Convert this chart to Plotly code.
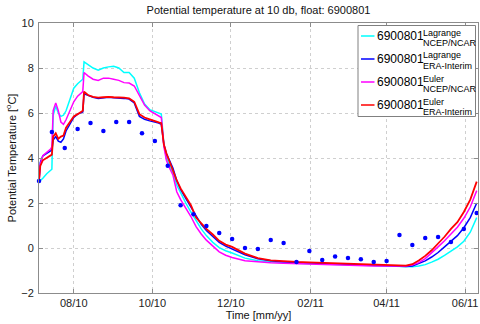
import pandas as pd
import plotly.graph_objects as go

# ---------------- data ----------------
start_date = "2010-07-05"
line_days = [0, 1, 3, 6, 9, 10, 11, 13, 15, 17,
             19, 21, 24, 27, 30, 33, 34, 35, 38, 42,
             46, 50, 54, 58, 62, 66, 70, 74, 78, 82,
             86, 90, 93, 95, 96, 97, 99, 101, 104, 107,
             110, 114, 118, 122, 126, 130, 135, 140, 145, 150,
             160, 170, 180, 190, 200, 210, 220, 230, 240, 250,
             260, 270, 280, 285, 290, 295, 300, 305, 310, 315,
             320, 325, 330, 335, 340]

lagrange_ncep = [2.95, 3.0, 3.1, 3.3, 3.45, 3.5, 5.9, 6.3, 6.0, 5.85,
                 5.9, 6.1, 6.6, 7.1, 7.3, 7.45, 7.5, 8.27, 8.15, 8.0,
                 7.9, 8.0, 8.05, 8.08, 8.0, 7.8, 7.8, 7.55, 6.9, 6.4,
                 6.15, 6.05, 6.0, 5.95, 5.3, 4.6, 4.0, 3.75, 3.35, 2.8,
                 2.45, 2.0, 1.6, 1.2, 0.85, 0.55, 0.25, 0.02, -0.12, -0.22,
                 -0.45, -0.57, -0.62, -0.66, -0.68, -0.7, -0.72, -0.73, -0.75, -0.77,
                 -0.8, -0.82, -0.83, -0.84, -0.83, -0.8, -0.74, -0.63, -0.5, -0.33,
                 -0.15, 0.05, 0.3, 0.7, 1.35]

lagrange_era = [2.9, 3.8, 4.1, 4.2, 4.3, 4.35, 4.8, 4.95, 4.75, 4.7,
                4.85, 5.2, 5.5, 5.8, 5.95, 6.05, 6.05, 6.85, 6.78, 6.7,
                6.65, 6.68, 6.7, 6.68, 6.68, 6.65, 6.62, 6.45, 5.85, 5.72,
                5.65, 5.6, 5.55, 5.5, 5.1, 4.6, 4.2, 3.95, 3.55, 3.0,
                2.6, 2.2, 1.8, 1.4, 1.05, 0.78, 0.5, 0.25, 0.08, -0.05,
                -0.3, -0.48, -0.57, -0.62, -0.64, -0.66, -0.68, -0.71, -0.73, -0.76,
                -0.78, -0.8, -0.82, -0.82, -0.8, -0.7, -0.57, -0.4, -0.2, 0.05,
                0.3, 0.55, 0.9, 1.35, 2.0]

euler_ncep = [3.0, 3.7, 4.1, 4.25, 4.4, 4.5, 6.1, 6.45, 6.1, 5.6,
              5.5, 5.7, 6.1, 6.5, 6.75, 6.9, 6.95, 7.8, 7.65, 7.5,
              7.45, 7.55, 7.55, 7.5, 7.45, 7.35, 7.33, 7.2, 6.75, 6.35,
              6.1, 5.95, 5.85, 5.8, 5.2, 4.5, 3.9, 3.6, 3.25, 2.5,
              2.15, 1.8, 1.4, 0.95, 0.62, 0.35, 0.08, -0.17, -0.32, -0.42,
              -0.57, -0.62, -0.66, -0.68, -0.7, -0.72, -0.72, -0.74, -0.76, -0.78,
              -0.8, -0.8, -0.82, -0.8, -0.76, -0.65, -0.47, -0.23, 0.05, 0.32,
              0.62, 0.92, 1.32, 1.82, 2.55]

euler_era = [3.0, 3.65, 3.9, 4.0, 4.1, 4.15, 4.95, 5.1, 4.85, 4.95,
             5.0, 5.35, 5.6, 5.85, 5.95, 6.05, 6.1, 6.95, 6.8, 6.72,
             6.68, 6.7, 6.72, 6.7, 6.7, 6.68, 6.65, 6.5, 5.95, 5.8,
             5.72, 5.62, 5.58, 5.55, 5.1, 4.6, 4.2, 3.9, 3.5, 3.0,
             2.65, 2.3, 1.9, 1.35, 1.1, 0.85, 0.6, 0.32, 0.15, 0.05,
             -0.25, -0.45, -0.55, -0.6, -0.62, -0.64, -0.66, -0.7, -0.72, -0.74,
             -0.76, -0.78, -0.8, -0.78, -0.72, -0.56, -0.35, -0.1, 0.2, 0.5,
             0.85, 1.15, 1.6, 2.15, 2.95]

profile_days = [0, 10, 20, 30, 40, 50, 60, 70, 80, 90,
                100, 110, 120, 130, 140, 150, 160, 170, 180, 190,
                200, 210, 220, 230, 240, 250, 260, 270, 280, 290,
                300, 310, 320, 330, 340]
profile_temp = [2.98, 5.16, 4.44, 5.29, 5.56, 5.2, 5.6, 5.6, 5.1, 4.76,
                3.66, 1.9, 1.5, 0.98, 0.67, 0.4, 0.0, -0.04, 0.36, 0.22,
                -0.62, -0.13, -0.53, -0.38, -0.44, -0.5, -0.62, -0.58, 0.58, 0.13,
                0.44, 0.49, 0.27, 0.84, 1.56]

series_names = ["Lagrange<br>NCEP/NCAR", "Lagrange<br>ERA-Interim",
                "Euler<br>NCEP/NCAR", "Euler<br>ERA-Interim"]
float_id = "6900801"
x_range = ["2010-07-05", "2011-06-11"]

# ---------------- figure ----------------
t0 = pd.Timestamp(start_date)
line_dates = t0 + pd.to_timedelta(line_days, unit="D")
prof_dates = t0 + pd.to_timedelta(profile_days, unit="D")

colors = ["#00FFFF", "#0000FF", "#FF00FF", "#FF0000"]
series = [lagrange_ncep, lagrange_era, euler_ncep, euler_era]
widths = [1.5, 1.5, 1.5, 1.8]

fig = go.Figure()
for vals, col, w, nm in zip(series, colors, widths, series_names):
    fig.add_trace(go.Scatter(x=line_dates, y=vals, mode="lines",
                             line=dict(color=col, width=w), name=nm,
                             showlegend=False))
fig.add_trace(go.Scatter(x=prof_dates, y=profile_temp, mode="markers",
                         marker=dict(color="#0000FF", size=4.5, symbol="circle"),
                         cliponaxis=False, showlegend=False))

FONT = "Liberation Sans, Arial, sans-serif"
L, R, T, B = 39, 478, 23, 293
W, H = 480, 324


def px(x):
    return (x - L) / (R - L)


def py(y):
    return (B - y) / (B - T)


shapes = []
annotations = []
# legend box
shapes.append(dict(type="rect", xref="paper", yref="paper",
                   x0=px(358), x1=px(475.5), y0=py(25.5), y1=py(116.5),
                   line=dict(color="#808080", width=1), fillcolor="white",
                   layer="above"))
entry_y = [36, 59, 82, 105]
for ey, col, nm in zip(entry_y, colors, series_names):
    shapes.append(dict(type="line", xref="paper", yref="paper",
                       x0=px(361), x1=px(374.5), y0=py(ey), y1=py(ey),
                       line=dict(color=col, width=1.5), layer="above"))
    annotations.append(dict(xref="paper", yref="paper", x=px(374.5), y=py(ey),
                            xanchor="left", yanchor="middle", showarrow=False,
                            text=float_id, font=dict(size=12, color="black", family=FONT)))
    top, bot = nm.split("<br>")
    annotations.append(dict(xref="paper", yref="paper", x=px(420.5), y=py(ey - 3.5),
                            xanchor="left", yanchor="middle", showarrow=False,
                            text=top, font=dict(size=9, color="black", family=FONT)))
    annotations.append(dict(xref="paper", yref="paper", x=px(420.5), y=py(ey + 7),
                            xanchor="left", yanchor="middle", showarrow=False,
                            text=bot, font=dict(size=9, color="black", family=FONT)))

axis_common = dict(showline=True, mirror="ticks", linecolor="#8c8c8c", linewidth=1,
                   ticks="inside", ticklen=4, tickcolor="#8c8c8c",
                   showgrid=True, gridcolor="#cfcfcf", griddash="dot", gridwidth=1,
                   zeroline=False, automargin=False,
                   tickfont=dict(size=11, color="#222222", family=FONT))

fig.update_layout(
    width=W, height=H,
    margin=dict(l=L, r=W - R, t=T, b=H - B, pad=0),
    paper_bgcolor="white", plot_bgcolor="white",
    font=dict(family=FONT, size=11, color="#222222"),
    title=dict(text="Potential temperature at 10 db, float: 6900801",
               x=px((L + R) / 2), xref="paper", xanchor="center",
               y=1 - 10.5 / H, yref="container", yanchor="middle",
               font=dict(size=11, color="#111111", family=FONT)),
    xaxis=dict(range=x_range, type="date", tick0="2010-08-01", dtick="M2",
               tickformat="%m/%y", ticklabelstandoff=0,
               title=dict(text="Time [mm/yy]", standoff=0,
                          font=dict(size=11, color="#111111", family=FONT)),
               **axis_common),
    yaxis=dict(range=[-2, 10], tick0=-2, dtick=2, ticklabelstandoff=2,
               title=dict(text="Potential Temperature [<sup>o</sup>C]", standoff=2,
                          font=dict(size=11, color="#111111", family=FONT)),
               **axis_common),
    shapes=shapes, annotations=annotations,
    showlegend=False,
)

fig.write_html("out.html")
